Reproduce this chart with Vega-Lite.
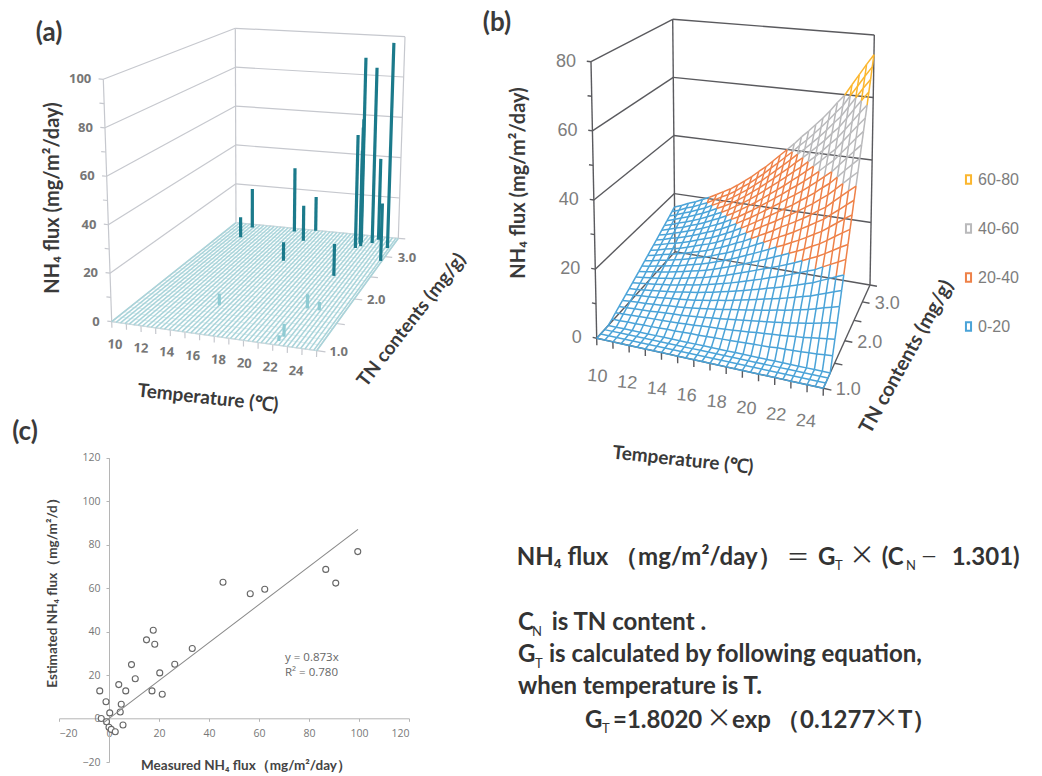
{"$schema":"https://vega.github.io/schema/vega-lite/v6.json","width":1042,"height":776,"padding":0,"autosize":"none","background":"white","config":{"view":{"stroke":null}},"data":{"values":[{}]},"resolve":{"scale":{"x":"independent","y":"independent","color":"independent"}},
"layer":[
{"data":{"values":[
{"kind":"fl","T":10,"N":1,"N2":3.5,"F":0},{"kind":"fl","T":10.3,"N":1,"N2":3.5,"F":0},{"kind":"fl","T":10.6,"N":1,"N2":3.5,"F":0},{"kind":"fl","T":10.9,"N":1,"N2":3.5,"F":0},{"kind":"fl","T":11.2,"N":1,"N2":3.5,"F":0},{"kind":"fl","T":11.5,"N":1,"N2":3.5,"F":0},{"kind":"fl","T":11.8,"N":1,"N2":3.5,"F":0},{"kind":"fl","T":12.1,"N":1,"N2":3.5,"F":0},{"kind":"fl","T":12.4,"N":1,"N2":3.5,"F":0},{"kind":"fl","T":12.7,"N":1,"N2":3.5,"F":0},{"kind":"fl","T":13,"N":1,"N2":3.5,"F":0},{"kind":"fl","T":13.3,"N":1,"N2":3.5,"F":0},{"kind":"fl","T":13.6,"N":1,"N2":3.5,"F":0},{"kind":"fl","T":13.9,"N":1,"N2":3.5,"F":0},{"kind":"fl","T":14.2,"N":1,"N2":3.5,"F":0},{"kind":"fl","T":14.5,"N":1,"N2":3.5,"F":0},{"kind":"fl","T":14.8,"N":1,"N2":3.5,"F":0},{"kind":"fl","T":15.1,"N":1,"N2":3.5,"F":0},{"kind":"fl","T":15.4,"N":1,"N2":3.5,"F":0},{"kind":"fl","T":15.7,"N":1,"N2":3.5,"F":0},{"kind":"fl","T":16,"N":1,"N2":3.5,"F":0},{"kind":"fl","T":16.3,"N":1,"N2":3.5,"F":0},{"kind":"fl","T":16.6,"N":1,"N2":3.5,"F":0},{"kind":"fl","T":16.9,"N":1,"N2":3.5,"F":0},{"kind":"fl","T":17.2,"N":1,"N2":3.5,"F":0},{"kind":"fl","T":17.5,"N":1,"N2":3.5,"F":0},{"kind":"fl","T":17.8,"N":1,"N2":3.5,"F":0},{"kind":"fl","T":18.1,"N":1,"N2":3.5,"F":0},{"kind":"fl","T":18.4,"N":1,"N2":3.5,"F":0},{"kind":"fl","T":18.7,"N":1,"N2":3.5,"F":0},{"kind":"fl","T":19,"N":1,"N2":3.5,"F":0},{"kind":"fl","T":19.3,"N":1,"N2":3.5,"F":0},{"kind":"fl","T":19.6,"N":1,"N2":3.5,"F":0},{"kind":"fl","T":19.9,"N":1,"N2":3.5,"F":0},{"kind":"fl","T":20.2,"N":1,"N2":3.5,"F":0},{"kind":"fl","T":20.5,"N":1,"N2":3.5,"F":0},{"kind":"fl","T":20.8,"N":1,"N2":3.5,"F":0},{"kind":"fl","T":21.1,"N":1,"N2":3.5,"F":0},{"kind":"fl","T":21.4,"N":1,"N2":3.5,"F":0},{"kind":"fl","T":21.7,"N":1,"N2":3.5,"F":0},{"kind":"fl","T":22,"N":1,"N2":3.5,"F":0},{"kind":"fl","T":22.3,"N":1,"N2":3.5,"F":0},{"kind":"fl","T":22.6,"N":1,"N2":3.5,"F":0},{"kind":"fl","T":22.9,"N":1,"N2":3.5,"F":0},{"kind":"fl","T":23.2,"N":1,"N2":3.5,"F":0},{"kind":"fl","T":23.5,"N":1,"N2":3.5,"F":0},{"kind":"fl","T":23.8,"N":1,"N2":3.5,"F":0},{"kind":"fl","T":24,"N":1,"N2":3.5,"F":0},
{"kind":"fn","T":10,"T2":24,"F":0,"N":1},{"kind":"fn","T":10,"T2":24,"F":0,"N":1.1},{"kind":"fn","T":10,"T2":24,"F":0,"N":1.2},{"kind":"fn","T":10,"T2":24,"F":0,"N":1.3},{"kind":"fn","T":10,"T2":24,"F":0,"N":1.4},{"kind":"fn","T":10,"T2":24,"F":0,"N":1.5},{"kind":"fn","T":10,"T2":24,"F":0,"N":1.6},{"kind":"fn","T":10,"T2":24,"F":0,"N":1.7},{"kind":"fn","T":10,"T2":24,"F":0,"N":1.8},{"kind":"fn","T":10,"T2":24,"F":0,"N":1.9},{"kind":"fn","T":10,"T2":24,"F":0,"N":2},{"kind":"fn","T":10,"T2":24,"F":0,"N":2.1},{"kind":"fn","T":10,"T2":24,"F":0,"N":2.2},{"kind":"fn","T":10,"T2":24,"F":0,"N":2.3},{"kind":"fn","T":10,"T2":24,"F":0,"N":2.4},{"kind":"fn","T":10,"T2":24,"F":0,"N":2.5},{"kind":"fn","T":10,"T2":24,"F":0,"N":2.6},{"kind":"fn","T":10,"T2":24,"F":0,"N":2.7},{"kind":"fn","T":10,"T2":24,"F":0,"N":2.8},{"kind":"fn","T":10,"T2":24,"F":0,"N":2.9},{"kind":"fn","T":10,"T2":24,"F":0,"N":3},{"kind":"fn","T":10,"T2":24,"F":0,"N":3.1},{"kind":"fn","T":10,"T2":24,"F":0,"N":3.2},{"kind":"fn","T":10,"T2":24,"F":0,"N":3.3},{"kind":"fn","T":10,"T2":24,"F":0,"N":3.4},{"kind":"fn","T":10,"T2":24,"F":0,"N":3.5},
{"kind":"f","T":10,"N":1,"F":0,"F2":100},{"kind":"f","T":10,"N":3.5,"F":0,"F2":100},{"kind":"f","T":24,"N":3.5,"F":0,"F2":100},
{"kind":"f","T":10,"N":1,"F":0,"N2":3.5},{"kind":"f","T":10,"N":3.5,"F":0,"T2":24},{"kind":"f","T":10,"N":1,"F":0,"T2":24},{"kind":"f","T":24,"N":1,"F":0,"N2":3.5},
{"kind":"f","T":10,"N":1,"F":20,"N2":3.5},{"kind":"f","T":10,"N":3.5,"F":20,"T2":24},{"kind":"f","T":10,"N":1,"F":40,"N2":3.5},{"kind":"f","T":10,"N":3.5,"F":40,"T2":24},{"kind":"f","T":10,"N":1,"F":60,"N2":3.5},{"kind":"f","T":10,"N":3.5,"F":60,"T2":24},{"kind":"f","T":10,"N":1,"F":80,"N2":3.5},{"kind":"f","T":10,"N":3.5,"F":80,"T2":24},{"kind":"f","T":10,"N":1,"F":100,"N2":3.5},{"kind":"f","T":10,"N":3.5,"F":100,"T2":24},
{"kind":"f","T":10,"N":1,"F":0,"F2":-2.5},{"kind":"f","T":11,"N":1,"F":0,"F2":-2.5},{"kind":"f","T":12,"N":1,"F":0,"F2":-2.5},{"kind":"f","T":13,"N":1,"F":0,"F2":-2.5},{"kind":"f","T":14,"N":1,"F":0,"F2":-2.5},{"kind":"f","T":15,"N":1,"F":0,"F2":-2.5},{"kind":"f","T":16,"N":1,"F":0,"F2":-2.5},{"kind":"f","T":17,"N":1,"F":0,"F2":-2.5},{"kind":"f","T":18,"N":1,"F":0,"F2":-2.5},{"kind":"f","T":19,"N":1,"F":0,"F2":-2.5},{"kind":"f","T":20,"N":1,"F":0,"F2":-2.5},{"kind":"f","T":21,"N":1,"F":0,"F2":-2.5},{"kind":"f","T":22,"N":1,"F":0,"F2":-2.5},{"kind":"f","T":23,"N":1,"F":0,"F2":-2.5},{"kind":"f","T":24,"N":1,"F":0,"F2":-2.5},
{"kind":"f","T":24,"N":1,"F":0,"T2":24.6},{"kind":"f","T":24,"N":1.5,"F":0,"T2":24.6},{"kind":"f","T":24,"N":2,"F":0,"T2":24.6},{"kind":"f","T":24,"N":2.5,"F":0,"T2":24.6},{"kind":"f","T":24,"N":3,"F":0,"T2":24.6},{"kind":"f","T":24,"N":3.5,"F":0,"T2":24.6},
{"kind":"f","T":10,"N":1,"F":0,"T2":9.7},{"kind":"f","T":10,"N":1,"F":10,"T2":9.7},{"kind":"f","T":10,"N":1,"F":20,"T2":9.7},{"kind":"f","T":10,"N":1,"F":30,"T2":9.7},{"kind":"f","T":10,"N":1,"F":40,"T2":9.7},{"kind":"f","T":10,"N":1,"F":50,"T2":9.7},{"kind":"f","T":10,"N":1,"F":60,"T2":9.7},{"kind":"f","T":10,"N":1,"F":70,"T2":9.7},{"kind":"f","T":10,"N":1,"F":80,"T2":9.7},{"kind":"f","T":10,"N":1,"F":90,"T2":9.7},{"kind":"f","T":10,"N":1,"F":100,"T2":9.7},
{"kind":"b","T":11.7,"N":3.41,"F":19.6,"F2":0},{"kind":"b","T":11.7,"N":3.11,"F":10,"F2":0},{"kind":"b","T":15.3,"N":3.41,"F":31.9,"F2":0},{"kind":"b","T":16.9,"N":3.49,"F":17,"F2":0},{"kind":"b","T":16.7,"N":3.19,"F":17.2,"F2":0},{"kind":"b","T":16.7,"N":2.64,"F":8.8,"F2":0},{"kind":"b","T":22.5,"N":3.41,"F":40,"F2":0},{"kind":"b","T":23.7,"N":3.22,"F":99.5,"F2":0},{"kind":"b","T":22.2,"N":3.31,"F":86,"F2":0},{"kind":"b","T":21.3,"N":3.3,"F":90.7,"F2":0},{"kind":"b","T":21.2,"N":3.3,"F":45,"F2":0},{"kind":"b","T":21.5,"N":3.2,"F":61.8,"F2":0},{"kind":"b","T":21.35,"N":3.25,"F":57,"F2":0},{"kind":"b","T":21.2,"N":3.14,"F":54.8,"F2":0},{"kind":"b","T":23.9,"N":2.89,"F":27,"F2":0},{"kind":"b","T":21.3,"N":2.43,"F":14.5,"F2":0},{"kind":"b","T":15.4,"N":1.55,"F":5,"F2":0},{"kind":"b","T":21.3,"N":1.71,"F":6,"F2":0},{"kind":"b","T":22.2,"N":1.7,"F":3.5,"F2":0},{"kind":"b","T":21.3,"N":1.15,"F":5.3,"F2":0},{"kind":"b","T":21.2,"N":1.07,"F":2.3,"F2":0},
{"kind":"lt","T":10,"N":1,"F":0,"label":"10"},{"kind":"lt","T":12,"N":1,"F":0,"label":"12"},{"kind":"lt","T":14,"N":1,"F":0,"label":"14"},{"kind":"lt","T":16,"N":1,"F":0,"label":"16"},{"kind":"lt","T":18,"N":1,"F":0,"label":"18"},{"kind":"lt","T":20,"N":1,"F":0,"label":"20"},{"kind":"lt","T":22,"N":1,"F":0,"label":"22"},{"kind":"lt","T":24,"N":1,"F":0,"label":"24"},
{"kind":"ln","T":24,"N":1,"F":0,"label":"1.0"},{"kind":"ln","T":24,"N":2,"F":0,"label":"2.0"},{"kind":"ln","T":24,"N":3,"F":0,"label":"3.0"},
{"kind":"lf","T":10,"N":1,"F":0,"label":"0"},{"kind":"lf","T":10,"N":1,"F":20,"label":"20"},{"kind":"lf","T":10,"N":1,"F":40,"label":"40"},{"kind":"lf","T":10,"N":1,"F":60,"label":"60"},{"kind":"lf","T":10,"N":1,"F":80,"label":"80"},{"kind":"lf","T":10,"N":1,"F":100,"label":"100"}
]},
"transform":[
{"calculate":"isValid(datum.T2)?datum.T2:datum.T","as":"T2"},{"calculate":"isValid(datum.N2)?datum.N2:datum.N","as":"N2"},{"calculate":"isValid(datum.F2)?datum.F2:datum.F","as":"F2"},
{"calculate":"(datum.T-10)/14","as":"u"},{"calculate":"(datum.N-1)/2.5*1.278/(1+0.278*(datum.N-1)/2.5)","as":"v"},{"calculate":"datum.F/100","as":"w"},
{"calculate":"(datum.T2-10)/14","as":"u2"},{"calculate":"(datum.N2-1)/2.5*1.278/(1+0.278*(datum.N2-1)/2.5)","as":"v2"},{"calculate":"datum.F2/100","as":"w2"},
{"calculate":"(1-datum.w)*((1-datum.u)*((1-datum.v)*111.7+datum.v*236)+datum.u*((1-datum.v)*316.7+datum.v*398.3))+datum.w*((1-datum.u)*((1-datum.v)*103.3+datum.v*235.3)+datum.u*((1-datum.v)*323.3+datum.v*405))","as":"px"},
{"calculate":"(1-datum.w)*((1-datum.u)*((1-datum.v)*321.7+datum.v*222.7)+datum.u*((1-datum.v)*350.7+datum.v*238.3))+datum.w*((1-datum.u)*((1-datum.v)*79.3+datum.v*28.3)+datum.u*((1-datum.v)*96.7+datum.v*36.7))","as":"py"},
{"calculate":"(1-datum.w2)*((1-datum.u2)*((1-datum.v2)*111.7+datum.v2*236)+datum.u2*((1-datum.v2)*316.7+datum.v2*398.3))+datum.w2*((1-datum.u2)*((1-datum.v2)*103.3+datum.v2*235.3)+datum.u2*((1-datum.v2)*323.3+datum.v2*405))","as":"qx"},
{"calculate":"(1-datum.w2)*((1-datum.u2)*((1-datum.v2)*321.7+datum.v2*222.7)+datum.u2*((1-datum.v2)*350.7+datum.v2*238.3))+datum.w2*((1-datum.u2)*((1-datum.v2)*79.3+datum.v2*28.3)+datum.u2*((1-datum.v2)*96.7+datum.v2*36.7))","as":"qy"}
],
"encoding":{"x":{"field":"px","type":"quantitative","axis":null,"scale":{"domain":[0,1042],"range":[0,1042],"nice":false,"zero":false}},"y":{"field":"py","type":"quantitative","axis":null,"scale":{"domain":[0,776],"range":[0,776],"nice":false,"zero":false}}},
"layer":[
{"transform":[{"filter":"datum.kind=='f'"}],"mark":{"type":"rule","color":"#c6c8ce","strokeWidth":1.2},"encoding":{"x2":{"field":"qx"},"y2":{"field":"qy"}}},
{"transform":[{"filter":"datum.kind=='fn'"}],"mark":{"type":"rule","color":"#cfe5e8","strokeWidth":0.7},"encoding":{"x2":{"field":"qx"},"y2":{"field":"qy"}}},
{"transform":[{"filter":"datum.kind=='fl'"}],"mark":{"type":"rule","color":"#a9d4da","strokeWidth":1.5},"encoding":{"x2":{"field":"qx"},"y2":{"field":"qy"}}},
{"transform":[{"filter":"datum.kind=='b'"}],"mark":{"type":"rule","strokeWidth":3.2},"encoding":{"x2":{"field":"qx"},"y2":{"field":"qy"},"color":{"condition":{"test":"datum.F<7","value":"#8fcbd3"},"value":"#1b7a8b"}}},
{"transform":[{"filter":"datum.kind=='lt'"},{"calculate":"datum.px+3.3-(datum.T-10)*1.71","as":"px"},{"calculate":"datum.py+23-(datum.T-10)*0.17","as":"py"}],"mark":{"type":"text","font":"Open Sans","fontWeight":"bold","fontSize":13,"color":"#767676","angle":3},"encoding":{"text":{"field":"label"}}},
{"transform":[{"filter":"datum.kind=='ln'"}],"mark":{"type":"text","font":"Open Sans","fontWeight":"bold","fontSize":13,"color":"#767676","dx":22,"dy":1},"encoding":{"text":{"field":"label"}}},
{"transform":[{"filter":"datum.kind=='lf'"}],"mark":{"type":"text","font":"Open Sans","fontWeight":"bold","fontSize":13,"color":"#767676","align":"right","dx":-12},"encoding":{"text":{"field":"label"}}}
]},
{"data":{"values":[
{"kind":"f","T":10,"N":1,"F":0,"F2":80},{"kind":"f","T":10,"N":3.5,"F":0,"F2":80},{"kind":"f","T":24,"N":3.5,"F":0,"F2":80},
{"kind":"f","T":10,"N":1,"F":0,"N2":3.5},{"kind":"f","T":10,"N":3.5,"F":0,"T2":24},{"kind":"f","T":10,"N":1,"F":0,"T2":24},{"kind":"f","T":24,"N":1,"F":0,"N2":3.5},
{"kind":"f","T":10,"N":1,"F":20,"N2":3.5},{"kind":"f","T":10,"N":3.5,"F":20,"T2":24},{"kind":"f","T":10,"N":1,"F":40,"N2":3.5},{"kind":"f","T":10,"N":3.5,"F":40,"T2":24},{"kind":"f","T":10,"N":1,"F":60,"N2":3.5},{"kind":"f","T":10,"N":3.5,"F":60,"T2":24},{"kind":"f","T":10,"N":1,"F":80,"N2":3.5},{"kind":"f","T":10,"N":3.5,"F":80,"T2":24},
{"kind":"f","T":10,"N":1,"F":0,"F2":-2},{"kind":"f","T":11,"N":1,"F":0,"F2":-2},{"kind":"f","T":12,"N":1,"F":0,"F2":-2},{"kind":"f","T":13,"N":1,"F":0,"F2":-2},{"kind":"f","T":14,"N":1,"F":0,"F2":-2},{"kind":"f","T":15,"N":1,"F":0,"F2":-2},{"kind":"f","T":16,"N":1,"F":0,"F2":-2},{"kind":"f","T":17,"N":1,"F":0,"F2":-2},{"kind":"f","T":18,"N":1,"F":0,"F2":-2},{"kind":"f","T":19,"N":1,"F":0,"F2":-2},{"kind":"f","T":20,"N":1,"F":0,"F2":-2},{"kind":"f","T":21,"N":1,"F":0,"F2":-2},{"kind":"f","T":22,"N":1,"F":0,"F2":-2},{"kind":"f","T":23,"N":1,"F":0,"F2":-2},{"kind":"f","T":24,"N":1,"F":0,"F2":-2},
{"kind":"f","T":24,"N":1,"F":0,"T2":24.5},{"kind":"f","T":24,"N":1.5,"F":0,"T2":24.5},{"kind":"f","T":24,"N":2,"F":0,"T2":24.5},{"kind":"f","T":24,"N":2.5,"F":0,"T2":24.5},{"kind":"f","T":24,"N":3,"F":0,"T2":24.5},{"kind":"f","T":24,"N":3.5,"F":0,"T2":24.5},
{"kind":"f","T":10,"N":1,"F":0,"T2":9.75},{"kind":"f","T":10,"N":1,"F":10,"T2":9.75},{"kind":"f","T":10,"N":1,"F":20,"T2":9.75},{"kind":"f","T":10,"N":1,"F":30,"T2":9.75},{"kind":"f","T":10,"N":1,"F":40,"T2":9.75},{"kind":"f","T":10,"N":1,"F":50,"T2":9.75},{"kind":"f","T":10,"N":1,"F":60,"T2":9.75},{"kind":"f","T":10,"N":1,"F":70,"T2":9.75},{"kind":"f","T":10,"N":1,"F":80,"T2":9.75},
{"kind":"lt","T":10,"N":1,"F":0,"label":"10"},{"kind":"lt","T":12,"N":1,"F":0,"label":"12"},{"kind":"lt","T":14,"N":1,"F":0,"label":"14"},{"kind":"lt","T":16,"N":1,"F":0,"label":"16"},{"kind":"lt","T":18,"N":1,"F":0,"label":"18"},{"kind":"lt","T":20,"N":1,"F":0,"label":"20"},{"kind":"lt","T":22,"N":1,"F":0,"label":"22"},{"kind":"lt","T":24,"N":1,"F":0,"label":"24"},
{"kind":"ln","T":24,"N":1,"F":0,"label":"1.0"},{"kind":"ln","T":24,"N":2,"F":0,"label":"2.0"},{"kind":"ln","T":24,"N":3,"F":0,"label":"3.0"},
{"kind":"lf","T":10,"N":1,"F":0,"label":"0"},{"kind":"lf","T":10,"N":1,"F":20,"label":"20"},{"kind":"lf","T":10,"N":1,"F":40,"label":"40"},{"kind":"lf","T":10,"N":1,"F":60,"label":"60"},{"kind":"lf","T":10,"N":1,"F":80,"label":"80"}
]},
"transform":[
{"calculate":"isValid(datum.T2)?datum.T2:datum.T","as":"T2"},{"calculate":"isValid(datum.N2)?datum.N2:datum.N","as":"N2"},{"calculate":"isValid(datum.F2)?datum.F2:datum.F","as":"F2"},
{"calculate":"(datum.T-10)/14","as":"u"},{"calculate":"(datum.N-1)/2.5*1.278/(1+0.278*(datum.N-1)/2.5)","as":"v"},{"calculate":"datum.F/80","as":"w"},
{"calculate":"(datum.T2-10)/14","as":"u2"},{"calculate":"(datum.N2-1)/2.5*1.278/(1+0.278*(datum.N2-1)/2.5)","as":"v2"},{"calculate":"datum.F2/80","as":"w2"},
{"calculate":"(1-datum.w)*((1-datum.u)*((1-datum.v)*596.7+datum.v*675)+datum.u*((1-datum.v)*823.3+datum.v*870))+datum.w*((1-datum.u)*((1-datum.v)*591+datum.v*672.7)+datum.u*((1-datum.v)*826.7+datum.v*874.3))","as":"px"},
{"calculate":"(1-datum.w)*((1-datum.u)*((1-datum.v)*338.3+datum.v*251.7)+datum.u*((1-datum.v)*388.3+datum.v*285))+datum.w*((1-datum.u)*((1-datum.v)*61.7+datum.v*19.3)+datum.u*((1-datum.v)*88.3+datum.v*35))","as":"py"},
{"calculate":"(1-datum.w2)*((1-datum.u2)*((1-datum.v2)*596.7+datum.v2*675)+datum.u2*((1-datum.v2)*823.3+datum.v2*870))+datum.w2*((1-datum.u2)*((1-datum.v2)*591+datum.v2*672.7)+datum.u2*((1-datum.v2)*826.7+datum.v2*874.3))","as":"qx"},
{"calculate":"(1-datum.w2)*((1-datum.u2)*((1-datum.v2)*338.3+datum.v2*251.7)+datum.u2*((1-datum.v2)*388.3+datum.v2*285))+datum.w2*((1-datum.u2)*((1-datum.v2)*61.7+datum.v2*19.3)+datum.u2*((1-datum.v2)*88.3+datum.v2*35))","as":"qy"}
],
"encoding":{"x":{"field":"px","type":"quantitative","axis":null,"scale":{"domain":[0,1042],"range":[0,1042],"nice":false,"zero":false}},"y":{"field":"py","type":"quantitative","axis":null,"scale":{"domain":[0,776],"range":[0,776],"nice":false,"zero":false}}},
"layer":[
{"transform":[{"filter":"datum.kind=='f'"}],"mark":{"type":"rule","color":"#5a5a5e","strokeWidth":1.4},"encoding":{"x2":{"field":"qx"},"y2":{"field":"qy"}}},
{"transform":[{"filter":"datum.kind=='lt'"},{"calculate":"datum.px+0.7-(datum.T-10)*1.29","as":"px"},{"calculate":"datum.py+38.3-(datum.T-10)*0.36","as":"py"}],"mark":{"type":"text","font":"Liberation Sans","fontSize":18,"color":"#7d7d7d","angle":5},"encoding":{"text":{"field":"label"}}},
{"transform":[{"filter":"datum.kind=='ln'"}],"mark":{"type":"text","font":"Liberation Sans","fontSize":18,"color":"#7d7d7d","dx":25,"dy":2},"encoding":{"text":{"field":"label"}}},
{"transform":[{"filter":"datum.kind=='lf'"}],"mark":{"type":"text","font":"Liberation Sans","fontSize":18,"color":"#7d7d7d","align":"right","dx":-15},"encoding":{"text":{"field":"label"}}}
]},
{"data":{"values":[
{"T":10,"F":[0,0,0,0,0.7,1.4,2.1,2.8,3.5,4.2,4.9,5.6,6.3,7,7.7,8.4,9.1,9.8,10.5,11.2,11.9,12.6,13.3,14,14.7,15.4]},
{"T":10.5,"F":[0,0,0,0,0.7,1.5,2.2,3,3.7,4.4,5.2,5.9,6.7,7.4,8.1,8.9,9.6,10.4,11.1,11.8,12.6,13.3,14.1,14.8,15.5,16.3]},
{"T":11,"F":[0,0,0,0,0.8,1.6,2.4,3.2,4,4.7,5.5,6.3,7.1,7.9,8.7,9.5,10.3,11.1,11.9,12.6,13.4,14.2,15,15.8,16.6,17.4]},
{"T":11.5,"F":[0,0,0,0,0.8,1.7,2.5,3.3,4.2,5,5.8,6.6,7.5,8.3,9.1,10,10.8,11.6,12.5,13.3,14.1,14.9,15.8,16.6,17.4,18.3]},
{"T":12,"F":[0,0,0,0,0.9,1.8,2.6,3.5,4.4,5.3,6.2,7,7.9,8.8,9.7,10.6,11.4,12.3,13.2,14.1,15,15.8,16.7,17.6,18.5,19.4]},
{"T":12.5,"F":[0,0,0,0,0.9,1.9,2.8,3.7,4.7,5.6,6.5,7.4,8.4,9.3,10.2,11.2,12.1,13,14,14.9,15.8,16.7,17.7,18.6,19.5,20.5]},
{"T":13,"F":[0,0,0,0,1,2,3,4,5,5.9,6.9,7.9,8.9,9.9,10.9,11.9,12.9,13.9,14.9,15.8,16.8,17.8,18.8,19.8,20.8,21.8]},
{"T":13.5,"F":[0,0,0,0,1.1,2.1,3.2,4.2,5.3,6.3,7.4,8.4,9.5,10.5,11.6,12.6,13.7,14.7,15.8,16.8,17.9,18.9,20,21,22.1,23.1]},
{"T":14,"F":[0,0,0,0,1.1,2.2,3.3,4.4,5.6,6.7,7.8,8.9,10,11.1,12.2,13.3,14.4,15.5,16.7,17.8,18.9,20,21.1,22.2,23.3,24.4]},
{"T":14.5,"F":[0,0,0,0,1.2,2.4,3.5,4.7,5.9,7.1,8.3,9.4,10.6,11.8,13,14.2,15.3,16.5,17.7,18.9,20.1,21.2,22.4,23.6,24.8,26]},
{"T":15,"F":[0,0,0,0,1.3,2.5,3.8,5,6.3,7.6,8.8,10.1,11.3,12.6,13.9,15.1,16.4,17.6,18.9,20.2,21.4,22.7,23.9,25.2,26.5,27.7]},
{"T":15.5,"F":[0,0,0,0,1.3,2.7,4,5.4,6.7,8,9.4,10.7,12.1,13.4,14.7,16.1,17.4,18.8,20.1,21.4,22.8,24.1,25.5,26.8,28.1,29.5]},
{"T":16,"F":[0,0,0,0,1.4,2.9,4.3,5.7,7.2,8.6,10,11.4,12.9,14.3,15.7,17.2,18.6,20,21.5,22.9,24.3,25.7,27.2,28.6,30,31.5]},
{"T":16.5,"F":[0,0,0,0,1.5,3,4.6,6.1,7.6,9.1,10.6,12.2,13.7,15.2,16.7,18.2,19.8,21.3,22.8,24.3,25.8,27.4,28.9,30.4,31.9,33.4]},
{"T":17,"F":[0,0,0,0,1.6,3.2,4.9,6.5,8.1,9.7,11.3,13,14.6,16.2,17.8,19.4,21.1,22.7,24.3,25.9,27.5,29.2,30.8,32.4,34,35.6]},
{"T":17.5,"F":[0,0,0,0,1.7,3.4,5.2,6.9,8.6,10.3,12,13.8,15.5,17.2,18.9,20.6,22.4,24.1,25.8,27.5,29.2,31,32.7,34.4,36.1,37.8]},
{"T":18,"F":[0,0,0,0,1.8,3.6,5.5,7.3,9.1,10.9,12.7,14.6,16.4,18.2,20,21.8,23.7,25.5,27.3,29.1,30.9,32.8,34.6,36.4,38.2,40]},
{"T":18.5,"F":[0,0,0,0,1.9,3.8,5.8,7.7,9.6,11.5,13.4,15.4,17.3,19.2,21.1,23,25,26.9,28.8,30.7,32.6,34.6,36.5,38.4,40.3,42.2]},
{"T":19,"F":[0,0,0,0,2,4.1,6.1,8.1,10.2,12.2,14.2,16.2,18.3,20.3,22.3,24.4,26.4,28.4,30.5,32.5,34.5,36.5,38.6,40.6,42.6,44.7]},
{"T":19.5,"F":[0,0,0,0,2.1,4.3,6.4,8.5,10.7,12.8,14.9,17,19.2,21.3,23.4,25.6,27.7,29.8,32,34.1,36.2,38.3,40.5,42.6,44.7,46.9]},
{"T":20,"F":[0,0,0,0,2.2,4.5,6.7,9,11.2,13.4,15.7,17.9,20.2,22.4,24.6,26.9,29.1,31.4,33.6,35.8,38.1,40.3,42.6,44.8,47,49.3]},
{"T":20.5,"F":[0,0,0,0,2.4,4.7,7.1,9.4,11.8,14.1,16.5,18.8,21.2,23.5,25.9,28.2,30.6,32.9,35.3,37.6,40,42.3,44.7,47,49.4,51.7]},
{"T":21,"F":[0,0,0,0,2.5,4.9,7.4,9.9,12.4,14.8,17.3,19.8,22.2,24.7,27.2,29.6,32.1,34.6,37.1,39.5,42,44.5,46.9,49.4,51.9,54.3]},
{"T":21.5,"F":[0,0,0,0,2.6,5.2,7.8,10.4,13,15.6,18.2,20.8,23.4,26,28.6,31.2,33.8,36.4,39,41.6,44.2,46.8,49.4,52,54.6,57.2]},
{"T":22,"F":[0,0,0,0,2.7,5.4,8.2,10.9,13.6,16.3,19,21.8,24.5,27.2,29.9,32.6,35.4,38.1,40.8,43.5,46.2,49,51.7,54.4,57.1,59.8]},
{"T":22.5,"F":[0,0,0,0,2.9,5.8,8.6,11.5,14.4,17.3,20.2,23,25.9,28.8,31.7,34.6,37.4,40.3,43.2,46.1,49,51.8,54.7,57.6,60.5,63.4]},
{"T":23,"F":[0,0,0,0,3,6.1,9.1,12.2,15.2,18.2,21.3,24.3,27.4,30.4,33.4,36.5,39.5,42.6,45.6,48.6,51.7,54.7,57.8,60.8,63.8,66.9]},
{"T":23.5,"F":[0,0,0,0,3.2,6.4,9.6,12.8,16,19.2,22.4,25.6,28.8,32,35.2,38.4,41.6,44.8,48,51.2,54.4,57.6,60.8,64,67.2,70.4]},
{"T":24,"F":[0,0,0,0,3.4,6.7,10,13.4,16.8,20.1,23.5,26.8,30.2,33.5,36.9,40.2,43.6,46.9,50.3,53.6,57,60.3,63.7,67,70.4,73.7]}
]},
"transform":[{"flatten":["F"]},{"window":[{"op":"row_number","as":"idx"}],"groupby":["T"]},{"calculate":"1+(datum.idx-1)*0.1","as":"N"},
{"calculate":"(datum.T-10)/14","as":"u"},{"calculate":"(datum.N-1)/2.5*1.278/(1+0.278*(datum.N-1)/2.5)","as":"v"},{"calculate":"datum.F/80","as":"w"},
{"calculate":"(1-datum.w)*((1-datum.u)*((1-datum.v)*596.7+datum.v*675)+datum.u*((1-datum.v)*823.3+datum.v*870))+datum.w*((1-datum.u)*((1-datum.v)*591+datum.v*672.7)+datum.u*((1-datum.v)*826.7+datum.v*874.3))","as":"px"},
{"calculate":"(1-datum.w)*((1-datum.u)*((1-datum.v)*338.3+datum.v*251.7)+datum.u*((1-datum.v)*388.3+datum.v*285))+datum.w*((1-datum.u)*((1-datum.v)*61.7+datum.v*19.3)+datum.u*((1-datum.v)*88.3+datum.v*35))","as":"py"}],
"encoding":{"x":{"field":"px","type":"quantitative","axis":null,"scale":{"domain":[0,1042],"range":[0,1042],"nice":false,"zero":false}},"y":{"field":"py","type":"quantitative","axis":null,"scale":{"domain":[0,776],"range":[0,776],"nice":false,"zero":false}},"x2":{"field":"qx"},"y2":{"field":"qy"},
"color":{"field":"band","type":"nominal","scale":{"domain":["60-80","40-60","20-40","0-20"],"range":["#fbb62e","#b9b9bb","#ee8148","#4aa3d8"]},"legend":{"orient":"none","legendX":959,"legendY":170,"title":null,"symbolType":"M-0.3,-0.5L0.3,-0.5L0.3,0.5L-0.3,0.5Z","symbolSize":289,"symbolStrokeWidth":2,"labelFont":"Liberation Sans","labelFontSize":16,"labelColor":"#7d7d7d","rowPadding":31,"labelOffset":0}}},
"layer":[
{"transform":[{"window":[{"op":"lead","field":"px","as":"qx"},{"op":"lead","field":"py","as":"qy"},{"op":"lead","field":"F","as":"G"}],"groupby":["T"],"sort":[{"field":"N"}]},{"filter":"isValid(datum.qx)"},{"calculate":"(datum.F+datum.G)/2","as":"m"},{"calculate":"datum.m<20?'0-20':datum.m<40?'20-40':datum.m<60?'40-60':'60-80'","as":"band"}],"mark":{"type":"rule","strokeWidth":1.5}},
{"transform":[{"window":[{"op":"lead","field":"px","as":"qx"},{"op":"lead","field":"py","as":"qy"},{"op":"lead","field":"F","as":"G"}],"groupby":["N"],"sort":[{"field":"T"}]},{"filter":"isValid(datum.qx)"},{"calculate":"(datum.F+datum.G)/2","as":"m"},{"calculate":"datum.m<20?'0-20':datum.m<40?'20-40':datum.m<60?'40-60':'60-80'","as":"band"}],"mark":{"type":"rule","strokeWidth":1.5}}
]},
{"data":{"values":[
{"mx":-3.7,"my":12.7},{"mx":-1.2,"my":7.7},{"mx":-3.1,"my":0},{"mx":0.3,"my":2.6},{"mx":-1,"my":-1.5},{"mx":0,"my":-4},{"mx":0.9,"my":-5},{"mx":2.5,"my":-6.1},{"mx":5.6,"my":-3},{"mx":4.5,"my":3},{"mx":4.9,"my":6.6},{"mx":3.9,"my":15.6},{"mx":6.7,"my":12.7},{"mx":10.5,"my":18.3},{"mx":9,"my":24.8},{"mx":15,"my":36.2},{"mx":17.7,"my":40.6},{"mx":18.3,"my":34.2},{"mx":17.2,"my":12.7},{"mx":21.3,"my":11.2},{"mx":20.3,"my":21},{"mx":26.3,"my":25},{"mx":33.3,"my":32.2},{"mx":45.6,"my":62.7},{"mx":56.5,"my":57.4},{"mx":62.3,"my":59.5},{"mx":86.7,"my":68.6},{"mx":90.7,"my":62.3},{"mx":99.5,"my":76.8}
]},
"mark":{"type":"point","shape":"circle","filled":false,"size":36,"stroke":"#666666","strokeWidth":1.1,"fill":"white","fillOpacity":1,"opacity":1},
"encoding":{"x":{"field":"mx","type":"quantitative","scale":{"domain":[-20,120],"range":[59,409],"nice":false,"zero":false},"axis":{"orient":"bottom","offset":-57.7,"values":[-20,0,20,40,60,80,100,120],"title":null,"grid":false,"domainColor":"#b5b5b5","tickColor":"#b5b5b5","tickSize":3,"labelFont":"Open Sans","labelFontSize":10.5,"labelColor":"#777777","labelPadding":7}},
"y":{"field":"my","type":"quantitative","scale":{"domain":[-20,120],"range":[762,457.7],"nice":false,"zero":false},"axis":{"orient":"left","offset":-109,"values":[-20,0,20,40,60,80,100,120],"title":null,"grid":false,"domainColor":"#b5b5b5","tickColor":"#b5b5b5","tickSize":3,"labelFont":"Open Sans","labelFontSize":10.5,"labelColor":"#777777","labelPadding":6}}}},
{"data":{"values":[{"mx":-2.4,"my":-2.1},{"mx":99.6,"my":87}]},"mark":{"type":"line","color":"#888888","strokeWidth":1.1},"encoding":{"x":{"field":"mx","type":"quantitative","scale":{"domain":[-20,120],"range":[59,409],"nice":false,"zero":false},"axis":null},"y":{"field":"my","type":"quantitative","scale":{"domain":[-20,120],"range":[762,457.7],"nice":false,"zero":false},"axis":null}}},
{"mark":{"type":"text","text":"(a)","x":49,"y":33,"font":"Lato","fontWeight":"bold","fontSize":26,"color":"#3a3a3a"}},
{"mark":{"type":"text","text":"(b)","x":497,"y":23,"font":"Lato","fontWeight":"bold","fontSize":26,"color":"#3a3a3a"}},
{"mark":{"type":"text","text":"(c)","x":25,"y":432,"font":"Lato","fontWeight":"bold","fontSize":26,"color":"#3a3a3a"}},
{"mark":{"type":"text","text":"NH₄ flux (mg/m²/day)","x":53,"y":198,"angle":-90,"font":"Lato","fontWeight":"bold","fontSize":20,"color":"#3a3a3a"}},
{"mark":{"type":"text","text":"Temperature (℃)","x":208,"y":398,"angle":6,"font":"Lato","fontWeight":"bold","fontSize":19,"color":"#3a3a3a"}},
{"mark":{"type":"text","text":"TN contents (mg/g)","x":411.5,"y":320,"angle":-52,"font":"Lato","fontWeight":"bold","fontSize":19,"color":"#3a3a3a"}},
{"mark":{"type":"text","text":"NH₄ flux (mg/m²/day)","x":519,"y":183,"angle":-90,"font":"Lato","fontWeight":"bold","fontSize":20,"color":"#3a3a3a"}},
{"mark":{"type":"text","text":"Temperature (℃)","x":683,"y":460,"angle":6,"font":"Lato","fontWeight":"bold","fontSize":19,"color":"#3a3a3a"}},
{"mark":{"type":"text","text":"TN contents (mg/g)","x":906.7,"y":357,"angle":-61,"font":"Lato","fontWeight":"bold","fontSize":20,"color":"#3a3a3a"}},
{"mark":{"type":"text","text":"Measured NH₄ flux（mg/m²/day）","x":246,"y":765.7,"font":"Lato","fontWeight":"bold","fontSize":13.5,"color":"#444444"}},
{"mark":{"type":"text","text":"Estimated NH₄ flux（mg/m²/d）","x":52.7,"y":589.5,"angle":-90,"font":"Lato","fontWeight":"bold","fontSize":13.5,"color":"#444444"}},
{"mark":{"type":"text","text":"y = 0.873x","x":285,"y":657.7,"align":"left","font":"Open Sans","fontSize":11.5,"color":"#666666"}},
{"mark":{"type":"text","text":"R² = 0.780","x":285,"y":673,"align":"left","font":"Open Sans","fontSize":11.5,"color":"#666666"}},
{"mark":{"type":"text","text":"NH₄ flux （mg/m²/day）","x":516.7,"y":558,"align":"left","font":"Lato","fontWeight":"bold","fontSize":24,"color":"#333333"}},
{"mark":{"type":"text","text":"＝","x":798,"y":558,"font":"Noto Sans CJK JP","fontSize":23,"color":"#333333"}},
{"mark":{"type":"text","text":"G","x":818,"y":558,"align":"left","font":"Lato","fontWeight":"bold","fontSize":24,"color":"#333333"}},
{"mark":{"type":"text","text":"T","x":835,"y":566,"align":"left","font":"Lato","fontSize":13,"color":"#333333"}},
{"mark":{"type":"text","text":"×","x":862,"y":556,"font":"Noto Sans CJK JP","fontSize":26,"color":"#333333"}},
{"mark":{"type":"text","text":"(C","x":881.7,"y":558,"align":"left","font":"Lato","fontWeight":"bold","fontSize":24,"color":"#333333"}},
{"mark":{"type":"text","text":"N","x":906,"y":566,"align":"left","font":"Lato","fontSize":13,"color":"#333333"}},
{"mark":{"type":"text","text":"－","x":929,"y":558,"font":"Noto Sans CJK JP","fontSize":17,"color":"#333333"}},
{"mark":{"type":"text","text":"1.301)","x":951.7,"y":558,"align":"left","font":"Lato","fontWeight":"bold","fontSize":24,"color":"#333333"}},
{"mark":{"type":"text","text":"C","x":518,"y":623,"align":"left","font":"Lato","fontWeight":"bold","fontSize":24,"color":"#333333"}},
{"mark":{"type":"text","text":"N","x":532,"y":632,"align":"left","font":"Lato","fontSize":13,"color":"#333333"}},
{"mark":{"type":"text","text":"is TN content .","x":551.7,"y":623,"align":"left","font":"Lato","fontWeight":"bold","fontSize":24,"color":"#333333"}},
{"mark":{"type":"text","text":"G","x":518,"y":655,"align":"left","font":"Lato","fontWeight":"bold","fontSize":24,"color":"#333333"}},
{"mark":{"type":"text","text":"T","x":535,"y":664,"align":"left","font":"Lato","fontSize":13,"color":"#333333"}},
{"mark":{"type":"text","text":"is calculated by following equation,","x":549,"y":655,"align":"left","font":"Lato","fontWeight":"bold","fontSize":24,"color":"#333333"}},
{"mark":{"type":"text","text":"when temperature is T.","x":518,"y":687,"align":"left","font":"Lato","fontWeight":"bold","fontSize":24,"color":"#333333"}},
{"mark":{"type":"text","text":"G","x":585,"y":720.7,"align":"left","font":"Lato","fontWeight":"bold","fontSize":24,"color":"#333333"}},
{"mark":{"type":"text","text":"T","x":602,"y":729,"align":"left","font":"Lato","fontSize":13,"color":"#333333"}},
{"mark":{"type":"text","text":"=1.8020","x":613,"y":720.7,"align":"left","font":"Lato","fontWeight":"bold","fontSize":24,"color":"#333333"}},
{"mark":{"type":"text","text":"×","x":719,"y":719,"font":"Noto Sans CJK JP","fontSize":26,"color":"#333333"}},
{"mark":{"type":"text","text":"exp","x":732,"y":720.7,"align":"left","font":"Lato","fontWeight":"bold","fontSize":24,"color":"#333333"}},
{"mark":{"type":"text","text":"（0.1277","x":776,"y":720.7,"align":"left","font":"Lato","fontWeight":"bold","fontSize":24,"color":"#333333"}},
{"mark":{"type":"text","text":"×","x":886,"y":719,"font":"Noto Sans CJK JP","fontSize":26,"color":"#333333"}},
{"mark":{"type":"text","text":"T）","x":898,"y":720.7,"align":"left","font":"Lato","fontWeight":"bold","fontSize":24,"color":"#333333"}}
]}
